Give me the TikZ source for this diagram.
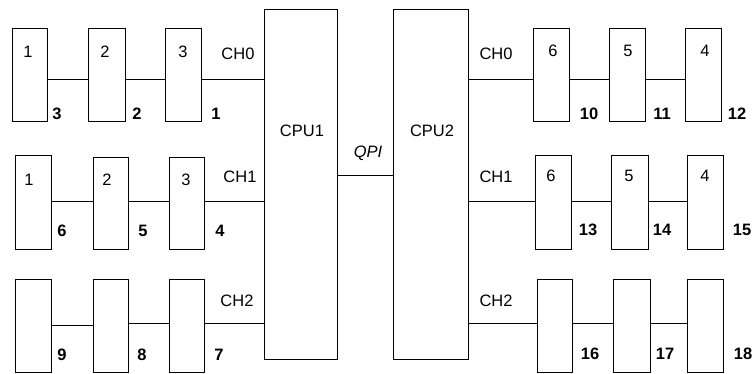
\documentclass[tikz,border=0pt]{standalone}
\usepackage{fontspec}
\setmainfont{Liberation Sans}
\begin{document}
\begin{tikzpicture}[x=1pt,y=-1pt,
  dimm/.style={draw,line width=1pt,rectangle,inner sep=0pt,anchor=north west},
  cpu/.style={draw,line width=1pt,rectangle,inner sep=0pt,anchor=north west},
  wire/.style={line width=0.9pt},
  txt/.style={inner sep=0pt,font=\fontsize{16.5}{19}\selectfont},
  num/.style={inner sep=0pt,font=\fontsize{16.5}{19}\selectfont\bfseries}]
\useasboundingbox (0,0) rectangle (754,373);
% CPUs
\node[cpu,minimum width=73pt,minimum height=350pt] (cpu1) at (264,9) {};
\node[cpu,minimum width=75pt,minimum height=350pt] (cpu2) at (393,9) {};
\node[txt] (cpu1t) at (302,131) {CPU1};
\node[txt] (cpu2t) at (432,131) {CPU2};
\coordinate (qpi) at (337,175);
\draw[wire] (cpu1.east |- qpi) -- (cpu2.west |- qpi);
\node[txt,font=\fontsize{16.5}{19}\selectfont\itshape] (qpit) at (368,153) {QPI};
% channel coordinates
\coordinate (a0) at (264,79);
\coordinate (a1) at (264,201);
\coordinate (a2) at (264,323);
\coordinate (a2b) at (264,325);
\coordinate (b0) at (468,79);
\coordinate (b1) at (468,201);
\coordinate (b2) at (468,323);
% left row 1
\node[dimm,minimum width=35pt,minimum height=93pt] (l11) at (12,28) {};
\node[dimm,minimum width=37pt,minimum height=93pt] (l12) at (88,28) {};
\node[dimm,minimum width=36pt,minimum height=93pt] (l13) at (165,28) {};
\draw[wire] (l11.east |- a0) -- (l12.west |- a0);
\draw[wire] (l12.east |- a0) -- (l13.west |- a0);
\draw[wire] (l13.east |- a0) -- (cpu1.west |- a0);
% left row 2
\node[dimm,minimum width=36pt,minimum height=94pt] (l21) at (15,155) {};
\node[dimm,minimum width=35pt,minimum height=92pt] (l22) at (93,157) {};
\node[dimm,minimum width=35pt,minimum height=92pt] (l23) at (169,157) {};
\draw[wire] (l21.east |- a1) -- (l22.west |- a1);
\draw[wire] (l22.east |- a1) -- (l23.west |- a1);
\draw[wire] (l23.east |- a1) -- (cpu1.west |- a1);
% left row 3
\node[dimm,minimum width=36pt,minimum height=93pt] (l31) at (15,279) {};
\node[dimm,minimum width=35pt,minimum height=93pt] (l32) at (93,279) {};
\node[dimm,minimum width=35pt,minimum height=93pt] (l33) at (169,279) {};
\draw[wire] (l31.east |- a2b) -- (l32.west |- a2b);
\draw[wire] (l32.east |- a2) -- (l33.west |- a2);
\draw[wire] (l33.east |- a2) -- (cpu1.west |- a2);
% right row 1
\node[dimm,minimum width=36pt,minimum height=93pt] (r11) at (533,28) {};
\node[dimm,minimum width=36pt,minimum height=93pt] (r12) at (609,28) {};
\node[dimm,minimum width=36pt,minimum height=93pt] (r13) at (685,28) {};
\draw[wire] (cpu2.east |- b0) -- (r11.west |- b0);
\draw[wire] (r11.east |- b0) -- (r12.west |- b0);
\draw[wire] (r12.east |- b0) -- (r13.west |- b0);
% right row 2
\node[dimm,minimum width=36pt,minimum height=94pt] (r21) at (535,155) {};
\node[dimm,minimum width=37pt,minimum height=94pt] (r22) at (611,155) {};
\node[dimm,minimum width=36pt,minimum height=94pt] (r23) at (687,155) {};
\draw[wire] (cpu2.east |- b1) -- (r21.west |- b1);
\draw[wire] (r21.east |- b1) -- (r22.west |- b1);
\draw[wire] (r22.east |- b1) -- (r23.west |- b1);
% right row 3
\node[dimm,minimum width=35pt,minimum height=93pt] (r31) at (537,279) {};
\node[dimm,minimum width=37pt,minimum height=93pt] (r32) at (613,279) {};
\node[dimm,minimum width=36pt,minimum height=93pt] (r33) at (687,279) {};
\draw[wire] (cpu2.east |- b2) -- (r31.west |- b2);
\draw[wire] (r31.east |- b2) -- (r32.west |- b2);
\draw[wire] (r32.east |- b2) -- (r33.west |- b2);
% channel labels
\node[txt] (ch0l) at (238,54) {CH0};
\node[txt] (ch1l) at (240,177) {CH1};
\node[txt] (ch2l) at (237,301) {CH2};
\node[txt] (ch0r) at (496,54) {CH0};
\node[txt] (ch1r) at (496,177) {CH1};
\node[txt] (ch2r) at (496,301) {CH2};
% in-box digits
\node[txt] (d11) at (28,52) {1};
\node[txt] (d12) at (105,52) {2};
\node[txt] (d13) at (183,52) {3};
\node[txt] (d21) at (29,180) {1};
\node[txt] (d22) at (107,180) {2};
\node[txt] (d23) at (186,180) {3};
\node[txt] (e11) at (553,51) {6};
\node[txt] (e12) at (628,51) {5};
\node[txt] (e13) at (705,51) {4};
\node[txt] (e21) at (551,176) {6};
\node[txt] (e22) at (629,176) {5};
\node[txt] (e23) at (705,176) {4};
% bold slot numbers
\node[num] (n3) at (57,114) {3};
\node[num] (n2) at (137,114) {2};
\node[num] (n1) at (216,114) {1};
\node[num] (n6) at (62,231) {6};
\node[num] (n5) at (143,231) {5};
\node[num] (n4) at (220,231) {4};
\node[num] (n9) at (62,355) {9};
\node[num] (n8) at (142,355) {8};
\node[num] (n7) at (219,355) {7};
\node[num] (n10) at (589,114) {10};
\node[num] (n11) at (662,114) {11};
\node[num] (n12) at (737,114) {12};
\node[num] (n13) at (588,230) {13};
\node[num] (n14) at (662,230) {14};
\node[num] (n15) at (742,230) {15};
\node[num] (n16) at (590,354) {16};
\node[num] (n17) at (665,354) {17};
\node[num] (n18) at (743,354) {18};
\end{tikzpicture}
\end{document}
